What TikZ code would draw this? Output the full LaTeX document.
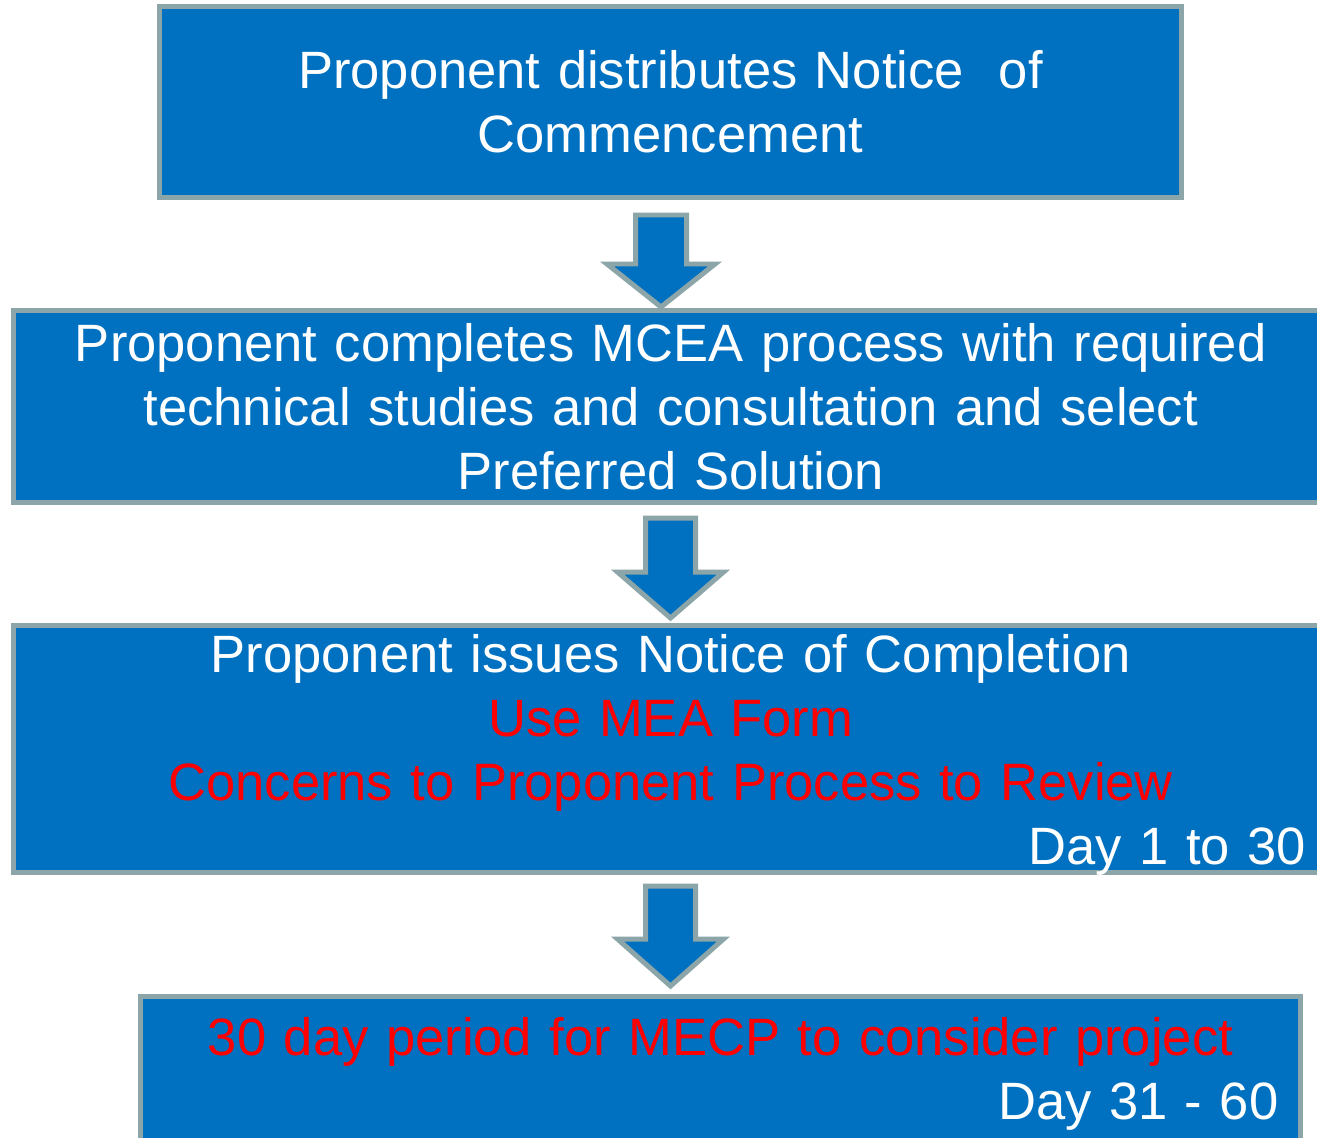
\documentclass[tikz,border=0pt]{standalone}
\usepackage{fontspec}
\setmainfont{Liberation Sans}
\definecolor{stageblue}{RGB}{0, 112, 192}
\definecolor{edgegrey}{RGB}{140, 165, 168}
\definecolor{alertred}{RGB}{255, 0, 0}
\usetikzlibrary{calc}

\tikzset{
  stagebox/.style={draw=edgegrey, fill=stageblue, line width=1.42pt, text=white, align=center,
    inner xsep=0.22cm, inner ysep=0pt, font=\fontsize{14.95}{18.2}\selectfont},
  flowarrow/.style={draw=edgegrey, fill=stageblue, line width=1.42pt}
}

\begin{document}
\begin{tikzpicture}
  \useasboundingbox (0, 0) rectangle (13.17, -11.37);
  \clip (0, 0) rectangle (13.17, -11.37);

  \node[stagebox, text width=9.78cm, minimum height=1.91cm] (notice) at (6.705, -1.02) {
    Proponent distributes Notice\ \ of\\
    Commencement
  };

  \node[stagebox, text width=12.705cm, minimum height=1.92cm] (mcea) at (6.7075, -4.065) {
    Proponent completes MCEA process with required\\
    technical studies and consultation and select\\
    Preferred Solution
  };

  \node[stagebox, text width=12.705cm, minimum height=2.47cm] (completion) at (6.7075, -7.49) {
    Proponent issues Notice of Completion\\
    \textcolor{alertred}{Use MEA Form}\\
    \textcolor{alertred}{Concerns to Proponent Process to Review}\\
    \makebox[\hsize][r]{\raisebox{0pt}[\height][0pt]{Day 1 to 30}}
  };

  \node[stagebox, text width=11.16cm, minimum height=1.56cm] (review) at (7.205, -10.74) {
    \textcolor{alertred}{30 day period for MECP to consider project}\\
    \makebox[\hsize][r]{Day 31 - 60}
  };

  % block arrows between the stages
  \draw[flowarrow] ($(notice.south)+(-0.35,-0.15)$) -- ++(0.51,0) -- ++(0,-0.49) -- ++(0.285,0)
    -- ++(-0.54,-0.43) -- ++(-0.54,0.43) -- ++(0.285,0) -- cycle;
  \draw[flowarrow] ($(mcea.south)+(-0.2525,-0.13)$) -- ++(0.5,0) -- ++(0,-0.54) -- ++(0.28,0)
    -- ++(-0.53,-0.46) -- ++(-0.53,0.46) -- ++(0.28,0) -- cycle;
  \draw[flowarrow] ($(completion.south)+(-0.2525,-0.11)$) -- ++(0.5,0) -- ++(0,-0.53) -- ++(0.28,0)
    -- ++(-0.53,-0.47) -- ++(-0.53,0.47) -- ++(0.28,0) -- cycle;
\end{tikzpicture}
\end{document}
